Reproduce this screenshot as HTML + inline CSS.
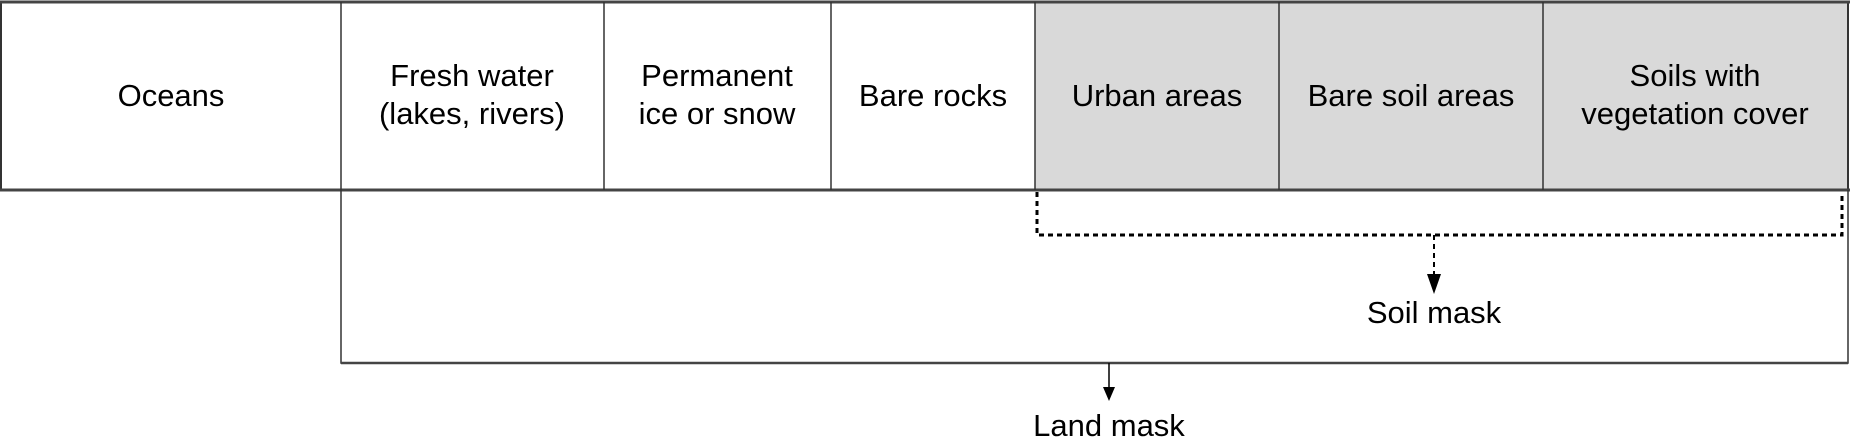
<!DOCTYPE html>
<html><head><meta charset="utf-8"><style>
html,body{margin:0;padding:0;background:#fff}
svg{display:block}
text{font-family:"Liberation Sans",sans-serif;font-size:31px;fill:#000;text-anchor:middle}
</style></head><body>
<svg width="1850" height="447" viewBox="0 0 1850 447">
<rect x="1035" y="2" width="813" height="188" fill="#d9d9d9"/>
<rect x="1" y="2" width="1847" height="188" fill="none" stroke="#333" stroke-width="2"/>
<line x1="0" y1="2" x2="1850" y2="2" stroke="#444" stroke-width="3"/>
<line x1="0" y1="190" x2="1850" y2="190" stroke="#444" stroke-width="3"/>
<g stroke="#333" stroke-width="1.5">
<line x1="341" y1="2" x2="341" y2="190"/>
<line x1="604" y1="2" x2="604" y2="190"/>
<line x1="831" y1="2" x2="831" y2="190"/>
<line x1="1035" y1="2" x2="1035" y2="190"/>
<line x1="1279" y1="2" x2="1279" y2="190"/>
<line x1="1543" y1="2" x2="1543" y2="190"/>
</g>
<text x="171" y="106">Oceans</text>
<text x="472" y="86">Fresh water</text>
<text x="472" y="124">(lakes, rivers)</text>
<text x="717" y="86">Permanent</text>
<text x="717" y="124">ice or snow</text>
<text x="933" y="106">Bare rocks</text>
<text x="1157" y="106">Urban areas</text>
<text x="1411" y="106">Bare soil areas</text>
<text x="1695" y="86">Soils with</text>
<text x="1695" y="124">vegetation cover</text>
<polyline points="1037,192 1037,235 1842,235 1842,192" fill="none" stroke="#000" stroke-width="3" stroke-dasharray="5,4"/>
<line x1="1434" y1="235" x2="1434" y2="276" stroke="#000" stroke-width="2" stroke-dasharray="5,4"/>
<polygon points="1427,274 1441,274 1434,294" fill="#000"/>
<text x="1434" y="323">Soil mask</text>
<polyline points="341,190 341,363 1848,363 1848,190" fill="none" stroke="#333" stroke-width="1.5"/>
<line x1="341" y1="363" x2="1848" y2="363" stroke="#444" stroke-width="2.5"/>
<line x1="1109" y1="363" x2="1109" y2="390" stroke="#000" stroke-width="1.5"/>
<polygon points="1103,387 1115,387 1109,401" fill="#000"/>
<text x="1109" y="436">Land mask</text>
</svg>
</body></html>
